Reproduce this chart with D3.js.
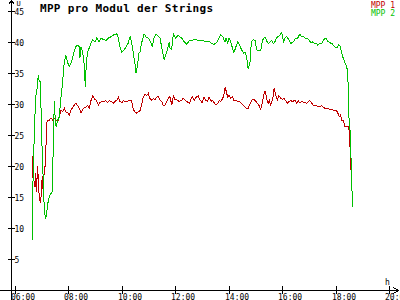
<!DOCTYPE html>
<html><head><meta charset="utf-8">
<script src="https://cdn.jsdelivr.net/npm/d3@7"></script>
<style>
html,body{margin:0;padding:0;background:#fff;}
svg{display:block;}
text{font-family:"DejaVu Sans Mono",monospace;}
</style></head>
<body>
<svg id="c" width="400" height="300"></svg>
<script>
const title = "MPP pro Modul der Strings";
const seriesNames = ["MPP 1", "MPP 2"];
const seriesColors = ["#c00000", "#00c000"];
const xTickHours = [6, 8, 10, 12, 14, 16, 18, 20];
const yTickValues = [5, 10, 15, 20, 25, 30, 35, 40, 45];
const xUnit = "h";
const yUnit = "U";

// MPP 1 (red): [hour, value]
const mpp1 = [[6.62,21.7],[6.64,18.1],[6.67,21.0],[6.69,17.8],[6.73,16.7],[6.76,18.9],[6.79,15.9],[6.82,20.0],[6.85,18.4],[6.88,15.7],[6.92,14.3],[6.94,14.1],[6.98,16.7],[7.00,18.4],[7.04,15.7],[7.08,20.0],[7.12,20.0],[7.14,23.2],[7.17,27.0],[7.21,27.5],[7.27,27.5],[7.33,27.8],[7.39,27.5],[7.45,27.8],[7.52,27.5],[7.58,27.2],[7.64,28.0],[7.70,29.1],[7.77,28.8],[7.83,29.4],[7.89,28.8],[7.95,28.7],[8.01,28.3],[8.08,29.1],[8.14,29.5],[8.20,29.9],[8.26,30.2],[8.33,29.8],[8.39,29.4],[8.45,28.6],[8.50,29.1],[8.56,29.4],[8.63,29.6],[8.70,29.8],[8.76,29.4],[8.83,30.7],[8.89,31.4],[8.98,30.8],[9.04,30.6],[9.10,29.9],[9.16,30.3],[9.23,30.5],[9.31,30.5],[9.39,30.6],[9.45,30.3],[9.51,30.6],[9.60,30.5],[9.66,30.2],[9.72,30.5],[9.79,30.7],[9.85,31.2],[9.91,30.5],[9.98,30.3],[10.04,30.6],[10.10,30.5],[10.19,30.5],[10.26,30.7],[10.32,30.7],[10.37,30.2],[10.41,29.2],[10.47,28.8],[10.54,28.6],[10.60,28.8],[10.66,29.0],[10.72,29.9],[10.78,31.2],[10.85,31.7],[10.91,31.4],[10.97,31.8],[11.03,31.0],[11.10,30.7],[11.16,31.0],[11.22,30.8],[11.29,31.2],[11.35,31.3],[11.41,30.7],[11.47,30.5],[11.53,29.9],[11.60,29.9],[11.66,30.5],[11.72,31.0],[11.78,31.3],[11.85,29.9],[11.91,31.4],[11.97,30.7],[12.03,30.8],[12.12,30.5],[12.22,30.7],[12.28,31.0],[12.35,30.7],[12.41,30.5],[12.51,30.2],[12.56,30.8],[12.62,31.3],[12.69,30.7],[12.78,31.3],[12.84,31.4],[12.91,30.7],[12.99,30.3],[13.06,31.2],[13.12,30.7],[13.19,30.5],[13.25,31.2],[13.32,30.5],[13.38,30.7],[13.43,30.3],[13.51,29.9],[13.57,30.2],[13.63,30.6],[13.69,30.5],[13.76,31.0],[13.82,31.9],[13.85,32.8],[13.89,32.1],[13.94,31.2],[13.99,31.5],[14.06,31.0],[14.12,31.3],[14.18,30.6],[14.25,30.7],[14.32,30.5],[14.38,30.5],[14.44,30.2],[14.53,29.9],[14.63,29.4],[14.71,29.4],[14.78,30.1],[14.84,30.7],[14.93,30.8],[15.00,30.5],[15.05,30.2],[15.12,29.8],[15.18,29.2],[15.24,30.3],[15.30,31.7],[15.34,32.2],[15.38,31.5],[15.43,30.5],[15.46,30.2],[15.50,30.7],[15.55,29.8],[15.59,30.5],[15.63,30.8],[15.68,32.6],[15.71,32.1],[15.75,31.4],[15.80,30.7],[15.86,31.4],[15.93,31.0],[15.99,30.8],[16.05,31.0],[16.13,30.5],[16.17,30.2],[16.24,30.5],[16.30,30.6],[16.38,30.5],[16.46,30.7],[16.53,30.2],[16.59,30.6],[16.65,30.2],[16.71,30.5],[16.80,30.3],[16.90,30.2],[16.96,30.5],[17.02,30.6],[17.09,30.2],[17.15,29.8],[17.28,29.8],[17.37,29.6],[17.46,29.8],[17.52,29.5],[17.59,29.4],[17.65,29.4],[17.77,29.2],[17.90,29.1],[18.00,29.1],[18.06,28.7],[18.12,28.0],[18.17,28.3],[18.21,27.5],[18.27,27.5],[18.33,26.5],[18.40,26.5],[18.46,26.4],[18.48,26.2],[18.52,23.2],[18.55,22.4],[18.56,19.4],[18.57,17.3]];

// MPP 2 (green): [hour, value]
const mpp2 = [[6.63,8.1],[6.64,15.1],[6.69,23.2],[6.72,27.5],[6.76,31.3],[6.82,32.9],[6.85,34.8],[6.88,34.0],[6.92,33.7],[6.94,31.3],[6.98,26.4],[7.00,21.6],[7.04,17.8],[7.08,12.7],[7.13,11.6],[7.17,12.7],[7.23,14.6],[7.29,15.4],[7.37,15.9],[7.40,21.0],[7.43,25.4],[7.45,30.5],[7.49,27.5],[7.52,26.4],[7.58,27.5],[7.64,28.0],[7.69,30.7],[7.75,32.9],[7.82,36.6],[7.88,38.0],[7.94,36.9],[8.01,36.1],[8.10,36.9],[8.16,38.0],[8.25,39.3],[8.33,39.6],[8.39,39.3],[8.41,37.5],[8.45,39.3],[8.52,38.3],[8.58,36.1],[8.61,32.9],[8.65,36.6],[8.70,38.5],[8.76,39.1],[8.83,39.9],[8.89,40.4],[8.98,40.1],[9.04,40.7],[9.13,40.1],[9.20,40.7],[9.29,40.5],[9.39,40.3],[9.47,40.7],[9.56,40.9],[9.66,41.2],[9.79,41.4],[9.85,40.7],[9.91,39.3],[9.98,38.4],[10.06,38.8],[10.14,39.3],[10.22,39.9],[10.29,41.0],[10.35,39.9],[10.41,38.3],[10.47,36.6],[10.51,35.1],[10.56,36.1],[10.62,38.3],[10.66,38.4],[10.72,39.9],[10.81,41.4],[10.89,40.9],[10.97,40.7],[11.06,40.1],[11.12,39.3],[11.18,40.7],[11.26,41.4],[11.35,41.0],[11.41,40.7],[11.47,39.3],[11.53,38.0],[11.57,37.2],[11.62,38.0],[11.68,38.8],[11.75,40.0],[11.78,39.1],[11.85,38.8],[11.87,40.1],[11.91,41.4],[12.00,40.7],[12.09,41.2],[12.16,40.9],[12.22,40.7],[12.32,40.1],[12.41,39.7],[12.51,40.3],[12.63,40.4],[12.76,40.5],[12.84,40.3],[12.93,40.4],[13.03,40.3],[13.16,40.1],[13.28,40.1],[13.34,39.8],[13.43,39.7],[13.53,40.0],[13.62,40.7],[13.68,41.2],[13.76,40.9],[13.84,40.1],[13.88,40.7],[13.94,39.9],[13.99,40.7],[14.06,40.1],[14.12,39.1],[14.18,38.4],[14.25,39.3],[14.32,40.1],[14.38,39.6],[14.47,38.8],[14.53,38.3],[14.59,38.5],[14.65,37.7],[14.71,35.7],[14.78,36.9],[14.80,38.8],[14.84,40.1],[14.90,40.5],[14.97,40.3],[15.03,38.8],[15.12,38.6],[15.19,38.9],[15.25,40.4],[15.34,40.9],[15.40,40.3],[15.46,39.8],[15.53,40.1],[15.59,40.3],[15.65,39.8],[15.71,40.1],[15.78,40.8],[15.84,41.0],[15.90,41.2],[15.97,41.6],[16.03,40.1],[16.09,40.7],[16.15,41.0],[16.24,40.4],[16.30,39.8],[16.36,40.0],[16.43,40.3],[16.49,40.7],[16.56,40.7],[16.65,41.4],[16.71,40.9],[16.77,41.0],[16.84,40.7],[16.92,40.7],[17.00,40.3],[17.06,40.0],[17.13,40.1],[17.19,39.8],[17.25,39.9],[17.31,39.6],[17.37,39.8],[17.44,39.8],[17.50,40.1],[17.55,40.5],[17.62,40.7],[17.67,40.3],[17.75,40.0],[17.80,39.9],[17.86,39.8],[17.92,39.4],[17.99,39.2],[18.05,39.2],[18.10,39.6],[18.15,39.4],[18.18,38.9],[18.21,38.3],[18.25,37.7],[18.30,37.1],[18.33,36.7],[18.37,36.4],[18.41,35.8],[18.44,35.0],[18.46,31.0],[18.48,28.0],[18.51,27.0],[18.55,23.2],[18.57,19.4],[18.59,17.3],[18.61,13.5]];

const svg = d3.select("#c");
const x = d3.scaleLinear().domain([6, 20]).range([15.5, 389.5]);
const y = d3.scaleLinear().domain([0, 45]).range([290.5, 11.5]);
const axisX = 11.5, axisY = 290.5;

// title
svg.append("text").attr("x", 40).attr("y", 11.5)
  .attr("font-size", 11).attr("font-weight", "bold")
  .attr("textLength", 173).attr("lengthAdjust", "spacing")
  .attr("fill", "#000").text(title);

// legend
seriesNames.forEach((n, i) => {
  svg.append("text").attr("x", 395).attr("y", 7.5 + i * 8)
    .attr("text-anchor", "end").attr("font-size", 8)
    .attr("fill", seriesColors[i]).text(n);
});

// series
const line = d3.line().x(d => x(d[0])).y(d => y(d[1]));
[mpp1, mpp2].forEach((s, i) => {
  svg.append("path").datum(s).attr("d", line)
    .attr("fill", "none").attr("stroke", seriesColors[i])
    .attr("stroke-width", 1).attr("shape-rendering", "crispEdges");
});

// axes
const ax = svg.append("g").attr("stroke", "#000").attr("shape-rendering", "crispEdges");
ax.append("line").attr("x1", 0).attr("x2", 398).attr("y1", axisY).attr("y2", axisY);
ax.append("line").attr("x1", axisX).attr("x2", axisX).attr("y1", 0).attr("y2", 300);
ax.append("path").attr("fill", "none").attr("d", `M393.5,287.5L398.5,${axisY}L393.5,293.5`);
ax.append("path").attr("fill", "none").attr("d", `M8.5,4.5L${axisX},0.5L14.5,4.5`);

// x ticks
const xt = svg.append("g");
xTickHours.forEach(h => {
  const px = Math.round(x(h) - 0.5) + 0.5;
  xt.append("line").attr("x1", px).attr("x2", px).attr("y1", 286).attr("y2", 294)
    .attr("stroke", "#000").attr("shape-rendering", "crispEdges");
  xt.append("text").attr("x", px - 4.5).attr("y", 299.5).attr("font-size", 8)
    .attr("fill", "#000").text(String(h).padStart(2, "0") + ":00");
});
// y ticks
const yt = svg.append("g");
yTickValues.forEach(v => {
  const py = Math.round(y(v) - 0.5) + 0.5;
  yt.append("line").attr("x1", 8).attr("x2", 15).attr("y1", py).attr("y2", py)
    .attr("stroke", "#000").attr("shape-rendering", "crispEdges");
  yt.append("text").attr("x", 14.5).attr("y", py + 3).attr("font-size", 8)
    .attr("fill", "#000").text(v);
});
// units
svg.append("text").attr("x", 385).attr("y", 285).attr("font-size", 8).attr("fill", "#000").text(xUnit);
svg.append("text").attr("x", 16.5).attr("y", 5.5).attr("font-size", 7).attr("fill", "#000").text(yUnit);
</script>
</body></html>
